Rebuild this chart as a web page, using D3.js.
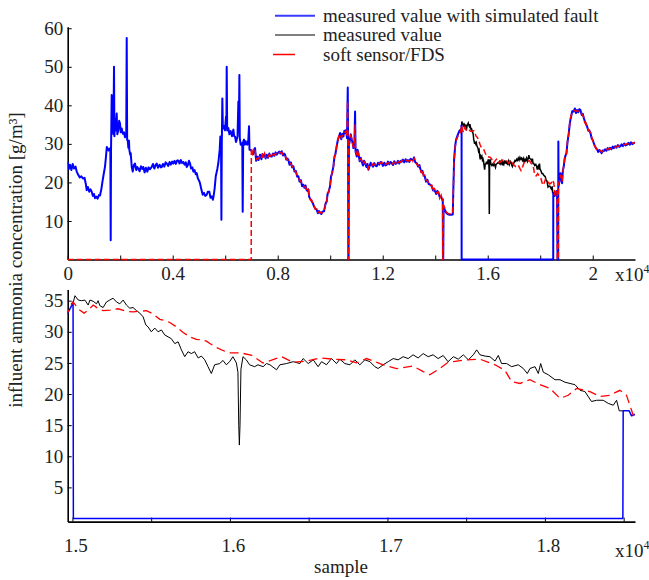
<!DOCTYPE html>
<html lang="en">
<head>
  <meta charset="UTF-8">
  <title>Influent ammonia - soft sensor / FDS</title>
  <script src="https://cdn.jsdelivr.net/npm/d3@7"></script>
  <style>
    body { margin: 0; background: #fff; }
    svg text, svg .tick text { font-family: "Liberation Serif", "Times New Roman", serif; font-size: 19px; fill: #222; }
  </style>
</head>
<body>
<svg id="chart" width="649" height="580"></svg>
<script>
  // [sample, g/m3]

  // measured value with simulated fault (blue)
  const faultPts = [
    [0,25.4],[40,23.5],[88,24.6],[140,23.2],[190,24.8],[240,23.6],[300,24.1],[343,22.8],[405,21.9],[460,21.3],
    [520,21.6],[580,21.0],[640,21.2],[690,19.6],[723,18.0],[770,18.8],[820,17.6],[870,18.2],[914,17.6],[960,16.5],
    [1000,17.0],[1040,15.9],[1090,16.3],[1140,15.8],[1190,16.7],[1231,16.6],[1280,18.2],[1333,20.6],[1380,22.5],[1421,24.1],
    [1460,26.8],[1490,29.2],[1509,28.9],[1560,28.3],[1600,28.8],[1625,28.5],[1638,5.0],[1650,28.0],[1676,42.7],[1690,33.0],
    [1714,34.5],[1740,32.5],[1764,50.0],[1780,32.0],[1802,36.5],[1830,33.5],[1867,37.9],[1890,32.5],[1928,33.6],[1960,36.0],
    [1993,35.3],[2020,33.0],[2057,34.0],[2100,32.6],[2145,33.0],[2183,31.7],[2230,32.5],[2248,57.5],[2265,31.0],[2286,31.0],
    [2310,29.0],[2335,30.8],[2347,28.5],[2380,27.2],[2400,27.6],[2440,24.0],[2477,22.8],[2520,24.5],[2564,24.9],[2610,23.2],
    [2650,24.0],[2690,23.6],[2740,22.9],[2790,24.2],[2840,23.5],[2880,24.0],[2930,22.6],[2980,23.8],[3033,22.8],[3080,23.9],
    [3130,23.4],[3200,24.0],[3250,24.8],[3300,23.6],[3350,24.5],[3391,24.9],[3440,23.8],[3500,24.6],[3550,23.9],[3581,24.0],
    [3630,24.8],[3680,24.1],[3730,25.2],[3772,24.9],[3830,24.3],[3880,25.3],[3930,24.6],[3980,25.4],[4023,24.9],[4070,25.6],
    [4120,24.8],[4170,25.7],[4214,25.7],[4260,24.9],[4310,25.8],[4360,25.0],[4404,25.3],[4450,24.6],[4500,25.2],[4534,24.0],
    [4580,24.5],[4620,25.6],[4660,24.9],[4700,23.6],[4750,23.9],[4785,22.8],[4830,23.2],[4880,22.1],[4915,22.4],[4960,21.0],
    [5000,20.5],[5040,19.8],[5090,18.2],[5143,16.8],[5190,17.3],[5240,16.5],[5296,16.8],[5340,17.6],[5395,17.6],[5440,16.0],
    [5490,16.4],[5530,15.5],[5560,16.5],[5600,18.6],[5640,21.6],[5700,23.5],[5739,25.1],[5790,28.5],[5815,31.9],[5840,31.5],
    [5855,10.3],[5870,30.0],[5891,41.8],[5910,34.0],[5955,34.6],[5990,33.5],[6031,37.1],[6045,34.0],[6057,50.0],[6075,33.5],
    [6120,34.1],[6160,32.5],[6209,33.3],[6260,32.0],[6311,33.7],[6340,32.0],[6374,31.9],[6410,30.5],[6438,31.1],[6470,32.0],
    [6501,41.0],[6520,33.0],[6540,47.9],[6555,31.5],[6590,29.8],[6628,29.8],[6650,30.2],[6666,12.4],[6685,30.5],[6717,31.1],
    [6750,29.8],[6780,30.7],[6810,30.0],[6844,29.8],[6880,31.0],[6907,34.6],[6925,28.5],[6960,28.5],[7009,28.1],[7060,27.3],
    [7100,28.5],[7136,28.9],[7180,25.6],[7225,26.7],[7270,25.8],[7327,27.2],[7380,26.0],[7420,27.4],[7454,26.7],[7500,27.2],
    [7540,26.2],[7581,27.2],[7630,26.4],[7680,27.5],[7720,26.8],[7771,26.7],[7820,27.5],[7870,26.9],[7920,27.8],[7962,27.2],
    [8000,27.6],[8060,28.0],[8100,27.5],[8152,28.1],[8200,27.0],[8240,27.5],[8279,27.2],[8330,25.9],[8370,26.2],[8406,25.9],
    [8450,24.6],[8500,25.2],[8550,23.9],[8597,24.2],[8640,22.8],[8690,23.0],[8740,21.5],[8787,21.6],[8830,20.2],[8880,20.6],
    [8930,19.0],[8978,19.4],[9020,18.6],[9060,19.2],[9100,18.0],[9140,17.8],[9168,18.2],[9200,16.2],[9250,15.6],[9295,15.1],
    [9340,14.6],[9380,13.8],[9430,13.2],[9486,12.9],[9530,12.0],[9570,12.6],[9613,12.1],[9660,11.8],[9700,12.4],[9765,12.5],
    [9800,13.8],[9830,14.6],[9867,15.1],[9900,17.0],[9940,17.6],[9994,19.0],[10030,21.5],[10070,22.3],[10121,24.2],[10160,26.5],
    [10200,27.5],[10248,29.4],[10290,31.0],[10330,31.8],[10375,32.8],[10420,31.2],[10460,32.6],[10502,31.9],[10540,33.4],[10566,32.8],
    [10604,33.6],[10640,31.5],[10668,44.6],[10680,30.0],[10690,0],[10700,0],[10712,30.2],[10731,30.2],[10780,32.5],[10820,31.1],
    [10860,30.0],[10883,28.9],[10920,29.5],[10947,38.4],[10965,28.0],[11011,26.7],[11040,28.5],[11074,27.6],[11120,25.5],[11160,26.4],
    [11201,25.4],[11250,24.4],[11290,25.6],[11328,25.0],[11380,24.0],[11420,24.8],[11455,23.3],[11500,24.2],[11540,25.1],[11582,24.6],
    [11630,24.1],[11680,25.0],[11730,24.3],[11773,24.2],[11820,25.1],[11870,24.6],[11920,25.3],[11963,25.0],[12010,24.3],[12060,25.1],
    [12110,24.4],[12154,24.6],[12200,25.4],[12250,24.7],[12300,25.3],[12344,25.0],[12390,24.5],[12440,25.5],[12490,24.8],[12535,25.0],
    [12580,25.6],[12630,24.9],[12680,25.6],[12725,25.4],[12770,25.9],[12820,25.2],[12870,26.0],[12916,25.4],[12960,25.8],[13010,25.3],
    [13060,26.1],[13106,25.9],[13150,25.8],[13195,26.5],[13240,25.2],[13297,25.0],[13350,24.1],[13400,24.5],[13424,23.7],[13470,22.7],
    [13510,23.0],[13551,22.0],[13600,21.6],[13650,20.2],[13703,20.7],[13750,19.6],[13800,19.5],[13868,19.0],[13920,17.9],[13960,18.3],
    [13995,17.7],[14040,17.0],[14080,17.8],[14122,17.3],[14170,16.2],[14224,16.4],[14260,15.6],[14287,15.6],[14295,0],[14305,0],
    [14320,13.9],[14360,13.0],[14414,12.2],[14470,11.8],[14541,11.6],[14600,11.6],[14668,11.7],[14693,19.0],[14719,25.9],[14760,29.5],
    [14795,31.1],[14840,32.0],[14884,32.8],[14930,33.5],[14970,33.0],[14995,34.2],[15004,34.8],[15006,0],[18495,0],[18497,17.3],
    [18518,17.3],[18535,17.3],[18550,16.5],[18571,16.7],[18600,17.5],[18640,17.8],[18660,0],[18685,0],[18690,30.6],[18700,19.0],
    [18740,21.0],[18770,22.4],[18800,20.5],[18833,19.8],[18860,23.0],[18897,24.2],[18940,26.5],[18998,27.6],[19040,30.5],[19087,32.8],
    [19130,35.5],[19176,37.1],[19220,38.5],[19278,38.4],[19320,39.2],[19360,38.0],[19405,38.8],[19450,38.2],[19490,39.0],[19532,38.8],
    [19580,37.5],[19620,37.8],[19659,36.7],[19700,35.8],[19740,35.2],[19786,34.5],[19830,33.4],[19870,33.5],[19913,32.8],[19960,31.4],
    [20000,31.0],[20040,30.2],[20080,29.5],[20120,28.9],[20167,28.5],[20210,27.9],[20250,28.4],[20294,28.1],[20340,27.6],[20380,28.3],
    [20421,28.1],[20470,28.6],[20520,28.2],[20570,28.9],[20612,28.5],[20660,29.0],[20710,28.6],[20760,29.3],[20802,28.9],[20850,29.4],
    [20900,29.0],[20960,29.7],[21010,29.2],[21056,29.4],[21100,29.9],[21150,29.4],[21200,30.1],[21250,29.6],[21310,29.8],[21360,30.3],
    [21410,29.8],[21460,30.4],[21510,29.9],[21564,30.2],[21610,30.4]
  ]

  // measured value (black) - only shows where the fault series is off
  const measuredPts = [
    [14990,34.5],[15006,34.8],[15016,35.8],[15037,35.1],[15058,35.0],[15079,35.1],[15100,34.3],[15111,35.1],[15132,34.9],[15153,34.5],
    [15163,35.0],[15174,34.2],[15195,33.9],[15216,34.8],[15237,35.1],[15258,35.4],[15280,34.8],[15301,34.5],[15322,35.1],[15343,34.3],
    [15364,33.8],[15385,33.9],[15407,33.4],[15428,33.0],[15449,32.4],[15466,31.1],[15480,30.8],[15501,30.0],[15523,30.6],[15544,30.0],
    [15565,30.3],[15586,29.5],[15607,29.2],[15628,28.9],[15650,28.1],[15671,28.4],[15692,27.1],[15713,26.0],[15734,26.8],[15755,26.5],
    [15776,26.8],[15798,25.8],[15819,26.1],[15840,25.5],[15861,24.4],[15882,23.3],[15903,24.7],[15935,24.9],[15956,25.4],[15977,24.7],
    [15998,25.2],[16019,26.0],[16041,25.0],[16051,23.5],[16056,15.0],[16060,11.8],[16064,15.0],[16070,24.0],[16083,26.0],[16104,25.5],
    [16125,24.7],[16157,24.4],[16178,24.7],[16211,24.4],[16232,24.9],[16254,24.7],[16296,23.9],[16317,24.7],[16359,24.9],[16402,25.2],
    [16444,24.9],[16465,25.7],[16497,24.9],[16529,25.5],[16560,24.4],[16582,25.2],[16613,24.7],[16645,25.7],[16677,24.9],[16698,25.6],
    [16730,24.9],[16762,24.7],[16793,25.5],[16825,24.7],[16857,25.5],[16889,25.2],[16920,24.4],[16941,24.1],[16973,24.7],[17005,25.2],
    [17037,25.7],[17068,25.5],[17100,26.0],[17132,25.7],[17163,26.3],[17195,25.8],[17227,26.5],[17259,26.0],[17290,26.3],[17322,25.7],
    [17354,26.2],[17385,25.2],[17419,26.0],[17450,25.6],[17482,26.3],[17514,25.5],[17545,26.3],[17567,27.1],[17588,26.3],[17620,26.1],
    [17651,26.0],[17683,25.3],[17704,26.2],[17725,24.9],[17757,24.9],[17789,24.4],[17831,24.7],[17863,24.1],[17888,23.3],[17905,24.1],
    [17937,24.4],[17958,23.3],[17973,24.9],[17990,23.5],[18021,23.1],[18064,22.3],[18096,22.3],[18127,21.9],[18159,21.7],[18191,21.5],
    [18223,20.6],[18254,20.4],[18296,18.8],[18328,19.0],[18370,19.0],[18402,18.5],[18434,18.2],[18455,19.0],[18472,17.3],[18497,17.3]
  ]

  // soft sensor / FDS (red dashed)
  const softPts = [
    [0,0],[6990,0],[6995,28.6],[7040,27.5],[7090,28.9],[7136,28.4],[7180,26.0],[7225,26.3],[7270,26.2],[7327,26.9],
    [7380,26.3],[7420,27.1],[7454,26.4],[7500,27.5],[7540,26.5],[7581,27.0],[7630,26.6],[7680,27.2],[7720,27.0],[7771,26.5],
    [7820,27.3],[7870,27.1],[7920,27.5],[7962,27.4],[8000,27.3],[8060,27.8],[8100,27.7],[8152,27.8],[8200,27.2],[8240,27.3],
    [8279,27.0],[8330,26.1],[8370,25.9],[8406,25.6],[8450,24.9],[8500,24.9],[8550,24.2],[8597,23.9],[8640,23.1],[8690,22.7],
    [8740,21.9],[8787,21.3],[8830,20.6],[8880,20.3],[8930,19.4],[8978,19.1],[9020,18.9],[9060,18.8],[9100,18.3],[9140,17.5],
    [9168,17.9],[9200,16.6],[9250,15.4],[9295,15.4],[9340,14.3],[9380,14.1],[9430,13.0],[9486,13.1],[9530,12.2],[9570,12.3],
    [9613,12.3],[9660,12.0],[9700,12.1],[9765,12.8],[9800,13.5],[9830,14.9],[9867,14.8],[9900,17.3],[9940,17.3],[9994,19.3],
    [10030,21.2],[10070,22.6],[10121,23.9],[10160,26.8],[10200,27.2],[10248,29.7],[10290,30.7],[10330,32.1],[10375,32.5],[10420,31.6],
    [10460,32.2],[10502,32.2],[10540,33.0],[10566,33.1],[10604,33.2],[10640,31.8],[10660,41.0],[10675,30.5],[10685,0],[10698,0],
    [10708,30.5],[10731,30.5],[10780,32.1],[10820,31.4],[10860,29.7],[10883,29.2],[10920,29.2],[10947,35.0],[10965,28.3],[11011,27.0],
    [11040,28.2],[11074,27.3],[11120,25.8],[11160,26.1],[11201,25.7],[11250,24.7],[11290,25.3],[11328,25.3],[11380,24.3],[11420,24.5],
    [11455,23.6],[11500,24.5],[11540,24.8],[11582,24.9],[11630,24.4],[11680,24.7],[11730,24.6],[11773,24.5],[11820,24.8],[11870,24.9],
    [11920,25.0],[11963,25.3],[12010,24.6],[12060,24.8],[12110,24.7],[12154,24.9],[12200,25.1],[12250,25.0],[12300,25.0],[12344,25.3],
    [12390,24.8],[12440,25.2],[12490,25.1],[12535,24.7],[12580,25.3],[12630,25.2],[12680,25.3],[12725,25.7],[12770,25.6],[12820,25.5],
    [12870,25.7],[12916,25.7],[12960,25.5],[13010,25.6],[13060,25.8],[13106,26.2],[13150,25.5],[13195,26.2],[13240,25.5],[13297,24.7],
    [13350,24.4],[13400,24.2],[13424,24.0],[13470,22.4],[13510,23.3],[13551,21.7],[13600,21.9],[13650,20.5],[13703,20.4],[13750,19.9],
    [13800,19.2],[13868,19.3],[13920,17.6],[13960,18.6],[13995,17.4],[14040,17.3],[14080,17.5],[14122,17.6],[14170,15.9],[14224,16.7],
    [14260,15.3],[14282,15.9],[14288,0],[14298,0],[14312,14.2],[14360,13.3],[14414,12.4],[14470,12.0],[14541,11.8],[14600,11.9],
    [14668,11.9],[14693,18.7],[14719,25.6],[14760,29.2],[14795,30.8],[14840,31.6],[14884,32.3],[14930,32.8],[14967,33.0],[15004,34.8],
    [15040,33.6],[15074,33.0],[15100,33.5],[15132,34.3],[15160,33.8],[15195,33.4],[15240,33.5],[15290,33.7],[15340,33.3],[15385,33.2],
    [15430,33.3],[15470,33.4],[15510,32.9],[15555,32.0],[15590,31.8],[15618,31.5],[15660,30.8],[15703,29.9],[15745,29.2],[15787,28.8],
    [15820,28.7],[15851,28.5],[15880,28.0],[15914,27.5],[15955,27.0],[15998,26.6],[16035,26.6],[16072,26.6],[16140,26.2],[16210,25.0],
    [16260,25.4],[16328,26.0],[16402,25.1],[16486,25.3],[16571,25.8],[16656,25.6],[16740,25.5],[16804,25.0],[16867,25.7],[16973,24.7],
    [17058,24.1],[17163,24.5],[17227,23.6],[17269,23.1],[17332,24.1],[17385,25.1],[17419,25.2],[17503,25.5],[17588,25.6],[17683,24.7],
    [17746,23.8],[17789,22.0],[17842,21.7],[17905,22.3],[17969,21.5],[18032,20.9],[18096,19.3],[18148,19.8],[18201,20.9],[18286,20.4],
    [18349,19.6],[18413,19.8],[18476,20.6],[18518,19.8],[18550,17.4],[18561,16.6],[18600,17.6],[18640,17.5],[18652,0],[18688,0],
    [18692,19.5],[18740,20.5],[18770,22.0],[18800,20.8],[18833,20.3],[18860,22.6],[18897,24.5],[18940,26.8],[18998,27.3],[19040,30.8],
    [19087,32.5],[19130,35.8],[19176,37.4],[19220,38.2],[19278,38.7],[19320,38.6],[19360,38.5],[19405,38.5],[19450,38.5],[19490,38.6],
    [19532,38.4],[19580,37.8],[19620,37.4],[19659,36.9],[19700,35.5],[19740,35.5],[19786,34.2],[19830,33.7],[19870,33.2],[19913,33.0],
    [19960,31.7],[20000,30.8],[20040,30.4],[20080,29.3],[20120,29.1],[20167,28.3],[20210,28.2],[20250,28.1],[20294,28.3],[20340,27.9],
    [20380,28.0],[20421,28.4],[20470,28.3],[20520,28.5],[20570,28.6],[20612,28.8],[20660,28.7],[20710,28.9],[20760,29.0],[20802,29.2],
    [20850,29.1],[20900,29.3],[20960,29.4],[21010,29.5],[21056,29.6],[21100,29.6],[21150,29.7],[21200,29.8],[21250,29.9],[21310,30.0],
    [21360,30.0],[21410,30.1],[21460,30.1],[21510,30.2],[21564,30.3],[21610,30.2]
  ]

  const seriesNames = ["measured value with simulated fault", "measured value", "soft sensor/FDS"]

  // ticks
  const topXTicks = [0, 2000, 4000, 6000, 8000, 10000, 12000, 14000, 16000, 18000, 20000]
  const topXLabels = {0: "0", 4000: "0.4", 8000: "0.8", 12000: "1.2", 16000: "1.6", 20000: "2"}
  const topYTicks = [10, 20, 30, 40, 50, 60]
  const botXTicks = [15000, 15500, 16000, 16500, 17000, 17500, 18000, 18500]
  const botXLabels = {15000: "1.5", 16000: "1.6", 17000: "1.7", 18000: "1.8"}
  const botYTicks = [5, 10, 15, 20, 25, 30, 35]

  const serif = '"Liberation Serif", "Times New Roman", serif'
  const svg = d3.select("#chart")

  const xTop = d3.scaleLinear().domain([0, 21610]).range([67.7, 635])
  const yTop = d3.scaleLinear().domain([0, 60.4]).range([259.5, 26.7])
  const xBot = d3.scaleLinear().domain([14970, 18572]).range([67.7, 635])
  const yBot = d3.scaleLinear().domain([-0.5, 36.8]).range([521.6, 289.5])

  function drawPanel(x, y, o) {
    const g = svg.append("g")
    const clipId = "clip" + o.id
    g.append("clipPath").attr("id", clipId)
      .append("rect")
      .attr("x", x.range()[0]).attr("y", y.range()[1] - 2)
      .attr("width", x.range()[1] - x.range()[0]).attr("height", y.range()[0] - y.range()[1] + 4)

    const xAxis = g.append("g")
      .attr("transform", `translate(0,${y.range()[0]})`)
      .call(d3.axisBottom(x).tickValues(o.xTicks).tickSize(-4).tickSizeOuter(0)
        .tickPadding(o.xPad).tickFormat(d => o.xLabels[d] || ""))
    const yAxis = g.append("g")
      .attr("transform", `translate(${x.range()[0]},0)`)
      .call(d3.axisLeft(y).tickValues(o.yTicks).tickSize(-4).tickSizeOuter(0).tickPadding(4.5))

    xAxis.attr("font-family", serif).attr("font-size", 19)
    yAxis.attr("font-family", serif).attr("font-size", 19)
    g.selectAll(".domain").attr("stroke", "#000").attr("stroke-width", 1.6)
    g.selectAll(".tick line").attr("stroke", "#000").attr("stroke-width", 1)
    g.selectAll(".tick text").attr("font-family", serif).attr("font-size", 19).attr("fill", "#222")
    xAxis.selectAll(".tick text").attr("dx", o.xShift)

    const line = d3.line().x(d => x(d[0])).y(d => y(d[1]))
    const plot = g.append("g").attr("clip-path", `url(#${clipId})`)

    plot.append("path").datum(measuredPts)
      .attr("d", line).attr("fill", "none")
      .attr("stroke", "#000").attr("stroke-width", o.blackW)
    plot.append("path").datum(faultPts)
      .attr("d", line).attr("fill", "none")
      .attr("stroke", "#0000ff").attr("stroke-width", o.blueW).attr("stroke-linejoin", "round")
    plot.append("path").datum(softPts)
      .attr("d", line).attr("fill", "none")
      .attr("stroke", "#ff0000").attr("stroke-width", o.redW)
      .attr("stroke-dasharray", o.dash)

    // x10^4 multiplier
    const m = g.append("text").attr("x", 615).attr("y", o.multY)
    m.append("tspan").text("x10")
    m.append("tspan").attr("dy", -8).attr("font-size", "12px").text("4")
  }

  drawPanel(xTop, yTop, {
    id: "top", xTicks: topXTicks, xLabels: topXLabels, yTicks: topYTicks,
    xPad: 7, xShift: 0, multY: 281, blueW: 2, blackW: 1.5, redW: 1.5, dash: "6,3"
  })
  drawPanel(xBot, yBot, {
    id: "bot", xTicks: botXTicks, xLabels: botXLabels, yTicks: botYTicks,
    xPad: 17, xShift: 3, multY: 557, blueW: 1.5, blackW: 1, redW: 1.3, dash: "9,5"
  })

  // legend
  const legend = svg.append("g")
  const legendY = [15.7, 35, 54.5]
  legend.append("line").attr("x1", 275).attr("x2", 315).attr("y1", legendY[0]).attr("y2", legendY[0])
    .attr("stroke", "#3b3bff").attr("stroke-width", 2)
  legend.append("line").attr("x1", 275).attr("x2", 315).attr("y1", legendY[1]).attr("y2", legendY[1])
    .attr("stroke", "#000").attr("stroke-width", 1)
  legend.append("line").attr("x1", 273).attr("x2", 295).attr("y1", legendY[2]).attr("y2", legendY[2])
    .attr("stroke", "#ff0000").attr("stroke-width", 1.5)
  legend.selectAll("text").data(seriesNames).join("text")
    .attr("x", 323).attr("y", (d, i) => legendY[i] + 6)
    .text(d => d)

  // axis titles
  svg.append("text")
    .attr("transform", "translate(22,260) rotate(-90)")
    .attr("text-anchor", "middle")
    .text("influent ammonia concentration [g/m³]")
  svg.append("text")
    .attr("x", 341).attr("y", 573)
    .attr("text-anchor", "middle")
    .text("sample")
</script>
</body>
</html>
